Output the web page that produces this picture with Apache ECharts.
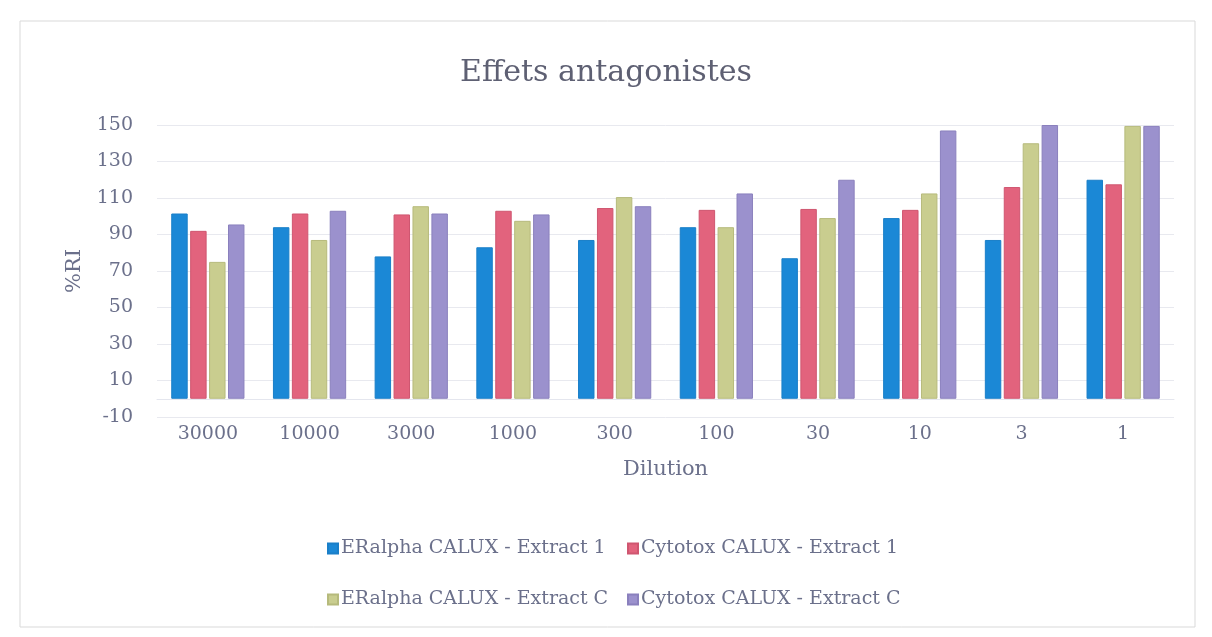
<!DOCTYPE html>
<html>
<head>
<meta charset="utf-8">
<script src="https://cdn.jsdelivr.net/npm/echarts@6/dist/echarts.min.js"></script>
<style>
html,body{margin:0;padding:0;background:#fff;}
#chart{width:1212px;height:637px;}
</style>
</head>
<body>
<div id="chart"></div>
<script>
const categories = ['30000','10000','3000','1000','300','100','30','10','3','1'];
const seriesNames = ['ERalpha CALUX - Extract 1','Cytotox CALUX - Extract 1','ERalpha CALUX - Extract C','Cytotox CALUX - Extract C'];
const eralpha1 = [101.5, 94, 78, 83, 87, 94, 77, 99, 87, 120];
const cytotox1 = [92, 101.5, 101, 103, 104.5, 103.5, 104, 103.5, 116, 117.5];
const eralphaC = [75, 87, 105.5, 97.5, 110.5, 94, 99, 112.5, 140, 149.5];
const cytotoxC = [95.5, 103, 101.5, 101, 105.5, 112.5, 120, 147, 150, 149.5];
const yTicks = {min: -10, max: 150, interval: 20};

const colors = ['#1b88d6', '#e2637d', '#c9cd8f', '#9b91cd'];
const borders = ['#1a7fc8', '#cf5670', '#b6ba7c', '#8a80bd'];
const textColor = '#6b708b';
const font = 'DejaVu Serif';

const chart = echarts.init(document.getElementById('chart'));
const values = [eralpha1, cytotox1, eralphaC, cytotoxC];

const legendPos = [
  {left: 322, top: 534},
  {left: 622, top: 534},
  {left: 322, top: 585},
  {left: 622, top: 585}
];

chart.setOption({
  backgroundColor: '#ffffff',
  animation: false,
  color: colors,
  title: {
    text: 'Effets antagonistes',
    left: 'center',
    top: 53,
    textStyle: {fontFamily: font, fontSize: 30, fontWeight: 'normal', color: '#5e6073'}
  },
  legend: seriesNames.map((n, i) => ({
    data: [n],
    left: legendPos[i].left,
    top: legendPos[i].top,
    icon: 'rect',
    itemWidth: 10,
    itemHeight: 10,
    itemGap: 4,
    textStyle: {fontFamily: font, fontSize: 19, color: textColor, padding: [0, 0, 0, -2]}
  })),
  grid: {left: 157, right: 38, top: 125, bottom: 220, containLabel: false},
  xAxis: {
    type: 'category',
    data: categories,
    name: 'Dilution',
    nameLocation: 'middle',
    nameGap: 42,
    nameTextStyle: {fontFamily: font, fontSize: 21, color: textColor},
    axisLine: {show: true, lineStyle: {color: '#e4e6ee', width: 1}},
    axisTick: {show: false},
    axisLabel: {fontFamily: font, fontSize: 19, color: textColor, margin: 8}
  },
  yAxis: {
    type: 'value',
    min: yTicks.min,
    max: yTicks.max,
    interval: yTicks.interval,
    name: '%RI',
    nameLocation: 'middle',
    nameGap: 72,
    nameRotate: 90,
    nameTextStyle: {fontFamily: font, fontSize: 21, color: textColor},
    axisLine: {show: false},
    axisTick: {show: false},
    splitLine: {lineStyle: {color: '#e8e9ef', width: 1}},
    axisLabel: {fontFamily: font, fontSize: 19, color: textColor, margin: 24}
  },
  series: values.map((v, i) => ({
    name: seriesNames[i],
    type: 'bar',
    data: v,
    barGap: '15%',
    barCategoryGap: '28%',
    itemStyle: {color: colors[i], borderColor: borders[i], borderWidth: 1}
  })),
  graphic: [{
    type: 'rect',
    shape: {x: 20, y: 21, width: 1175, height: 606},
    style: {fill: 'none', stroke: '#d9d9d9', lineWidth: 1},
    silent: true
  }]
});
</script>
</body>
</html>
